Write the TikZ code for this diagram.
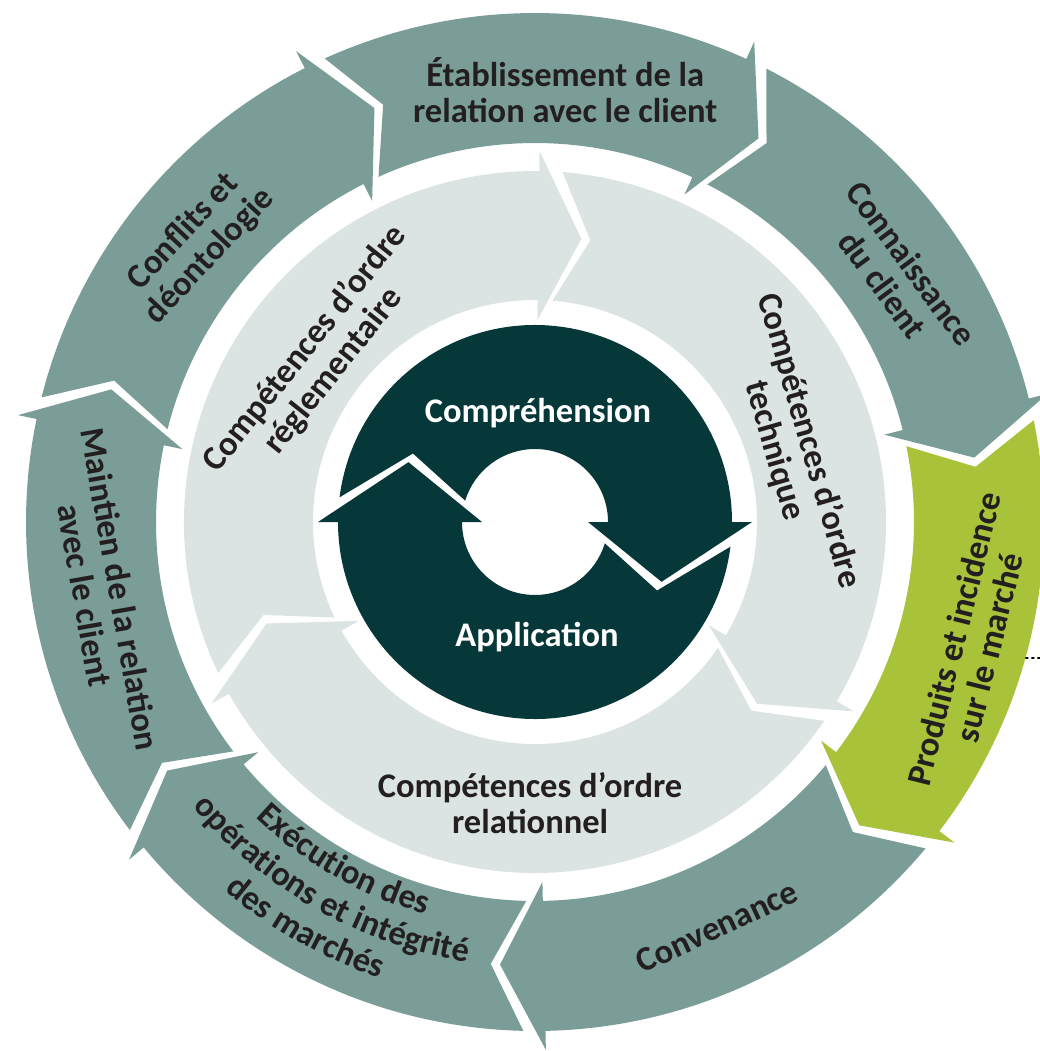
\documentclass[tikz,border=0pt]{standalone}
\usepackage{fontspec}
\setmainfont{Carlito}
\usetikzlibrary{decorations.text}
\definecolor{ringgrey}{RGB}{122,158,151}
\definecolor{ringgreen}{RGB}{168,194,57}
\definecolor{ringlight}{RGB}{220,228,227}
\definecolor{ringdark}{RGB}{6,56,57}
\definecolor{textdark}{RGB}{35,31,32}

\newcommand{\labelfont}{\fontsize{34.5}{36}\selectfont\bfseries}

% one arrow of a ring: colour, tail angle, head angle
\newcommand{\ringpart}[3]{%
  \fill[#1] ({#2-\nout}:\rOut) arc[start angle={#2-\nout}, end angle={#3}, radius=\rOut]
    -- ({#3}:{\rOut+\barb}) -- ({#3-\tipoff}:\rMid) -- ({#3}:{\rIn-\barb}) -- ({#3}:\rIn)
    arc[start angle={#3}, end angle={#2-\nin}, radius=\rIn] -- ({#2-\tipoff}:\rMid) -- cycle;}

\begin{document}
\begin{tikzpicture}[x=1pt,y=1pt,
  txt/.style={align=center,inner sep=0pt,text=textdark,font=\labelfont},
  curved/.style={decorate,decoration={text along path,text align=center,
    text={|\labelfont\color{textdark}|#1}}},
  leader/.style={draw=black,line width=1.6pt,dash pattern=on 3pt off 3pt}]

  \useasboundingbox (0,0) rectangle (1040,-1051);
  \clip (0,0) rectangle (1040,-1051);

  \begin{scope}[shift={(535,-522)}]
    % outer ring
    \def\rOut{509}\def\rIn{379}\def\rMid{444}\def\barb{19}\def\tipoff{5.7}\def\nout{1.3}\def\nin{1.3}
    \foreach \h/\col in {116.9/ringgrey,65.47/ringgrey,14.04/ringgrey,-37.39/ringgreen,
                         -88.82/ringgrey,-140.25/ringgrey,-191.68/ringgrey}
      {\ringpart{\col}{\h+50.23}{\h}}

    % middle ring
    \def\rOut{351}\def\rIn{222}\def\rMid{287}\def\barb{20}\def\tipoff{8.6}\def\nout{2}\def\nin{2}
    \foreach \h in {89.3,-30.7,-150.7}
      {\ringpart{ringlight}{\h+118.2}{\h}}

    % inner ring
    \def\rOut{197}\def\rIn{73}\def\rMid{140}\def\barb{20}\def\tipoff{25.3}\def\nout{3.2}\def\nin{13}
    \foreach \h in {0,-180}
      {\ringpart{ringdark}{\h+176}{\h}}

    \node[txt] (1) at (86:433) {Établissement de la\\relation avec le client};
    \node[txt, rotate=47] (2) at (140.6:438) {Conflits et\\déontologie};
    \node[txt, rotate=-53.5] (3) at (34.4:439) {Connaissance\\du client};
    \node[txt, rotate=76] (4) at (-15.5:453) {Produits et incidence\\sur le marché};
    \node[txt, rotate=25] (5) at (-65.8:444) {Convenance};
    \node[txt, rotate=-80] (7) at (189.2:438) {Maintien de la relation\\avec le client};

    % curved label, one line per arc
    \path[curved={Exécution des}] (205:407) arc[start angle=205, end angle=276, radius=407];
    \path[curved={opérations et intégrité}] (205:445) arc[start angle=205, end angle=276, radius=445];
    \path[curved={des marchés}] (205:482) arc[start angle=205, end angle=276, radius=482];

    \node[txt, rotate=51.5] (8) at (143.1:270) {Compétences d’ordre\\réglementaire};
    \node[txt, rotate=-74] (9) at (16.5:268) {Compétences d’ordre\\technique};
    \node[txt] (10) at (-91:281) {Compétences d’ordre\\relationnel};

    \node[txt, text=white] (11) at (3,109) {Compréhension};
    \node[txt, text=white] (12) at (2,-115) {Application};

    \coordinate (edge) at (-15.5:509);
    \coordinate (off) at (505,-136);
    \draw[leader] (edge) -- (off);
  \end{scope}
\end{tikzpicture}
\end{document}
